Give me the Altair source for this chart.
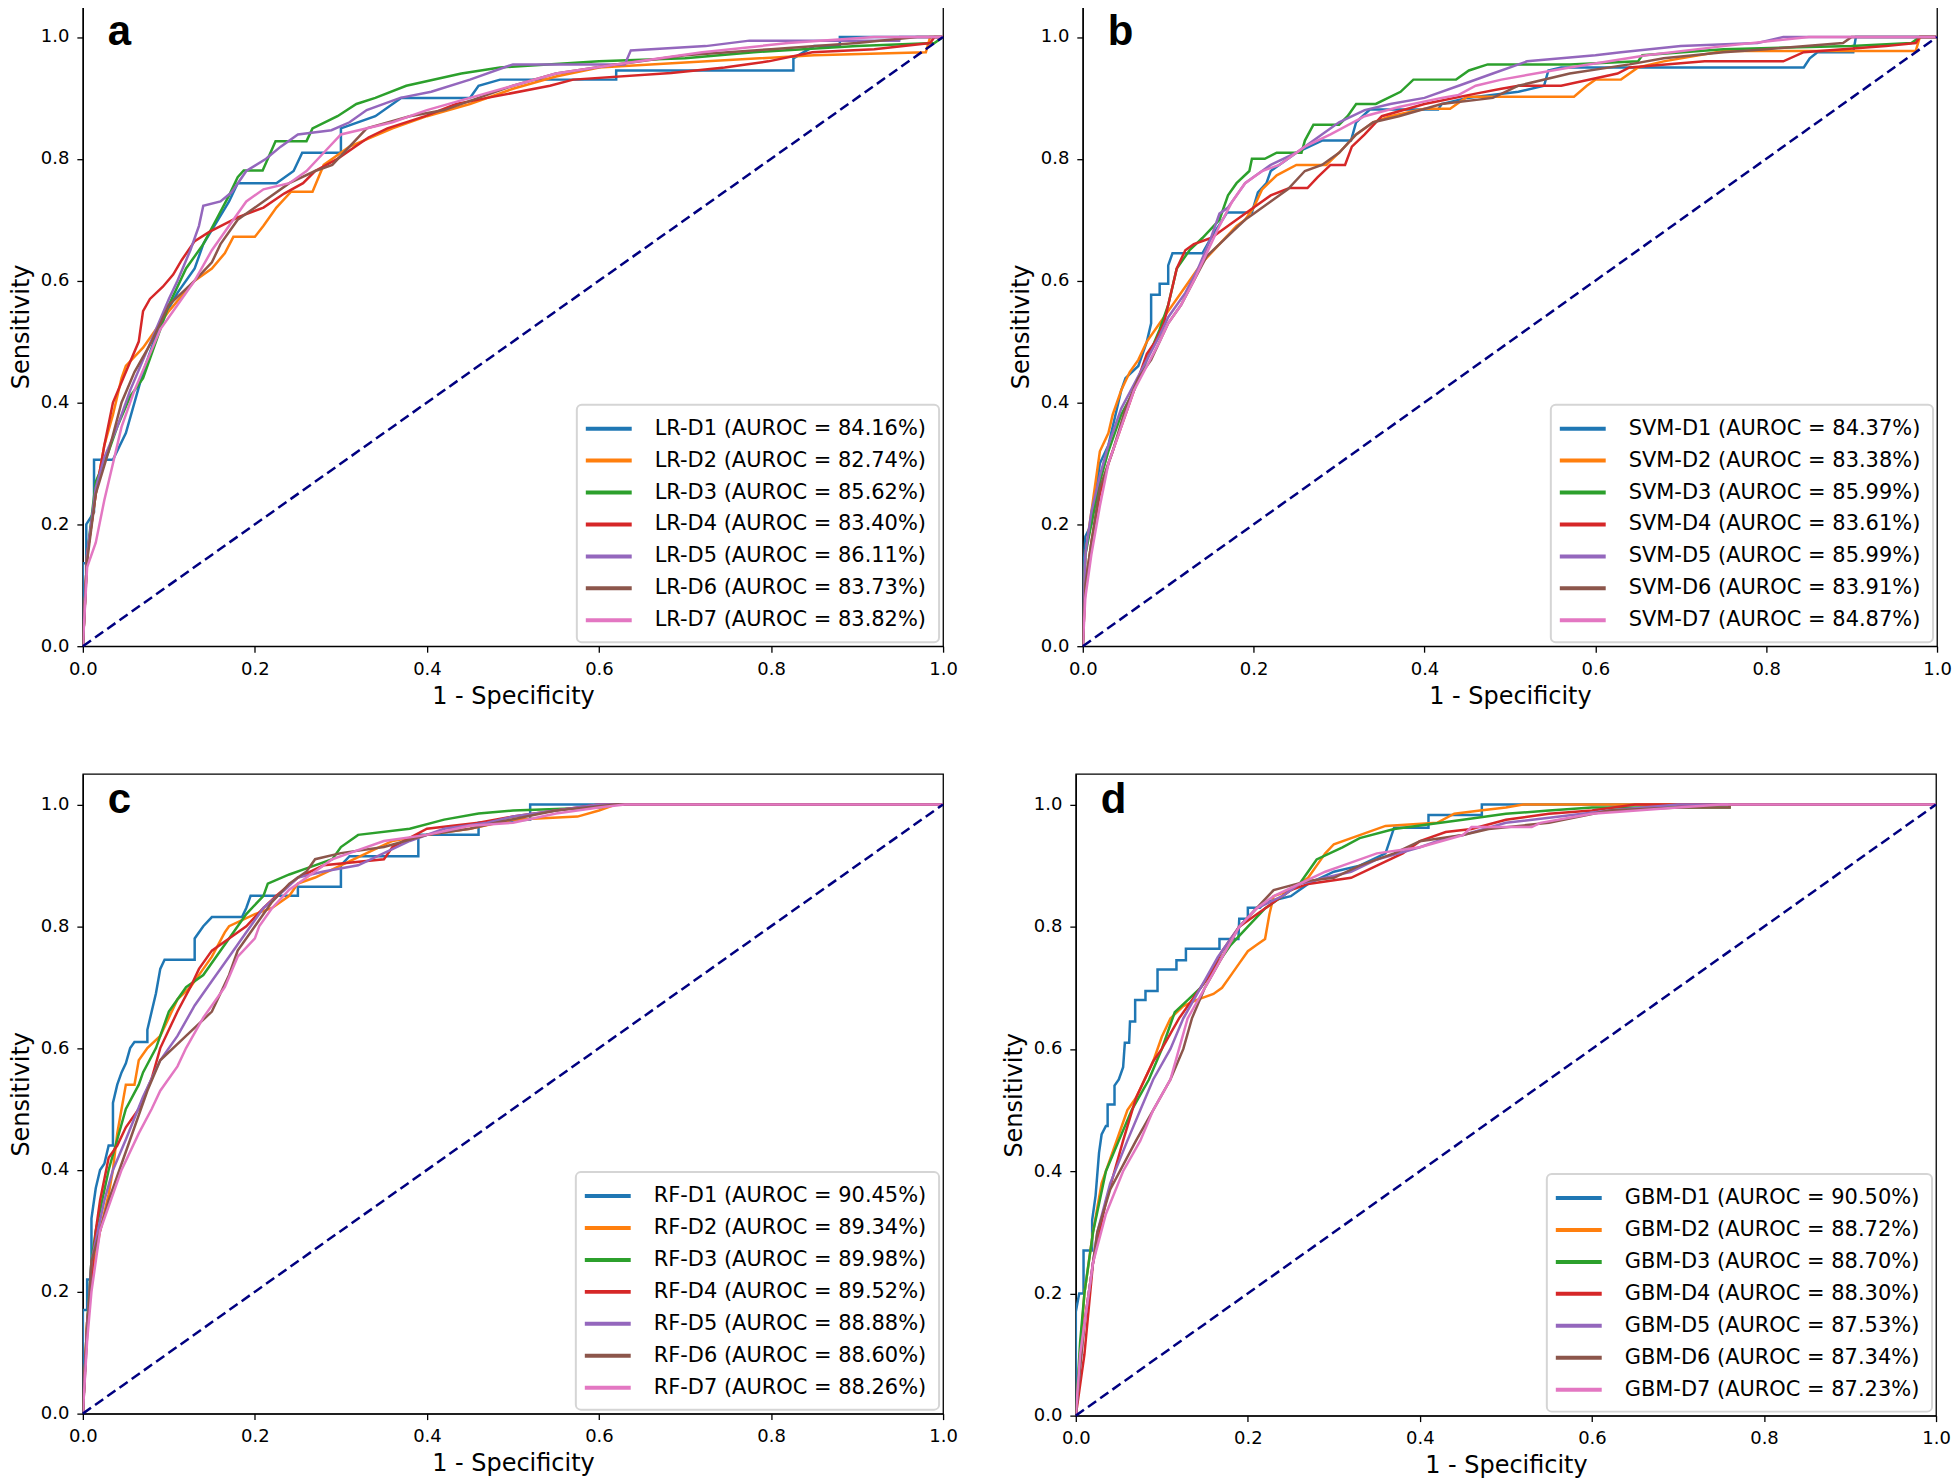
import altair as alt
import pandas as pd

# ---------------- data ----------------
TICKS = [0.0, 0.2, 0.4, 0.6, 0.8, 1.0]
COLORS = ["#1f77b4", "#ff7f0e", "#2ca02c", "#d62728", "#9467bd", "#8c564b", "#e377c2"]
DIAG_FPR = [0.0, 1.0]
DIAG_TPR = [0.0, 1.0]

LETTERS = ["a", "b", "c", "d"]
PREFIXES = ["LR", "SVM", "RF", "GBM"]
AUROC_A = ["84.16", "82.74", "85.62", "83.40", "86.11", "83.73", "83.82"]
AUROC_B = ["84.37", "83.38", "85.99", "83.61", "85.99", "83.91", "84.87"]
AUROC_C = ["90.45", "89.34", "89.98", "89.52", "88.88", "88.60", "88.26"]
AUROC_D = ["90.50", "88.72", "88.70", "88.30", "87.53", "87.34", "87.23"]

# ---- panel a: LR (fpr, tpr) ----
LR_D1 = [(0, 0), (0, 0.136), (0.004, 0.136), (0.004, 0.2), (0.013, 0.22), (0.013, 0.306), (0.035, 0.306),
         (0.05, 0.35), (0.07, 0.45), (0.09, 0.53), (0.11, 0.58), (0.13, 0.62), (0.14, 0.66), (0.155, 0.695),
         (0.17, 0.73), (0.18, 0.76), (0.225, 0.76), (0.245, 0.78), (0.255, 0.81), (0.30, 0.81), (0.30, 0.85),
         (0.34, 0.87), (0.37, 0.9), (0.45, 0.9), (0.46, 0.92), (0.485, 0.93), (0.62, 0.93), (0.62, 0.945),
         (0.826, 0.945), (0.826, 0.965), (0.85, 0.985), (0.88, 0.985), (0.88, 1.0), (1.0, 1.0)]
LR_D2 = [(0, 0), (0.005, 0.15), (0.015, 0.25), (0.025, 0.33), (0.035, 0.38), (0.045, 0.44), (0.05, 0.46),
         (0.07, 0.49), (0.1, 0.55), (0.13, 0.6), (0.15, 0.62), (0.165, 0.645), (0.175, 0.672), (0.2, 0.672),
         (0.21, 0.69), (0.225, 0.72), (0.242, 0.746), (0.267, 0.746), (0.28, 0.79), (0.29, 0.8), (0.31, 0.82),
         (0.36, 0.85), (0.4, 0.87), (0.45, 0.89), (0.5, 0.915), (0.55, 0.935), (0.6, 0.95), (0.7, 0.958),
         (0.85, 0.97), (0.98, 0.975), (0.985, 1.0), (1.0, 1.0)]
LR_D3 = [(0, 0), (0.005, 0.15), (0.015, 0.27), (0.03, 0.32), (0.04, 0.36), (0.055, 0.41), (0.07, 0.44),
         (0.08, 0.48), (0.1, 0.56), (0.12, 0.62), (0.14, 0.66), (0.155, 0.7), (0.17, 0.74), (0.18, 0.77),
         (0.187, 0.781), (0.209, 0.781), (0.224, 0.829), (0.26, 0.829), (0.267, 0.85), (0.296, 0.87),
         (0.318, 0.89), (0.34, 0.9), (0.376, 0.92), (0.44, 0.94), (0.485, 0.95), (0.6, 0.96), (0.7, 0.965),
         (0.78, 0.975), (0.9, 0.985), (0.99, 0.99), (1.0, 1.0)]
LR_D4 = [(0, 0), (0.005, 0.15), (0.015, 0.25), (0.025, 0.33), (0.035, 0.4), (0.05, 0.45), (0.065, 0.5),
         (0.07, 0.55), (0.078, 0.57), (0.093, 0.59), (0.105, 0.61), (0.115, 0.634), (0.13, 0.665),
         (0.147, 0.68), (0.18, 0.704), (0.21, 0.72), (0.234, 0.743), (0.256, 0.76), (0.27, 0.78),
         (0.296, 0.8), (0.332, 0.835), (0.354, 0.85), (0.398, 0.87), (0.434, 0.89), (0.47, 0.9),
         (0.543, 0.92), (0.57, 0.93), (0.684, 0.941), (0.746, 0.95), (0.797, 0.96), (0.848, 0.975),
         (0.92, 0.98), (0.985, 0.99), (0.99, 1.0), (1.0, 1.0)]
LR_D5 = [(0, 0), (0.005, 0.15), (0.015, 0.26), (0.025, 0.31), (0.04, 0.36), (0.055, 0.42), (0.07, 0.47),
         (0.085, 0.52), (0.1, 0.57), (0.11, 0.6), (0.125, 0.65), (0.135, 0.69), (0.14, 0.723), (0.16, 0.73),
         (0.173, 0.745), (0.19, 0.78), (0.213, 0.8), (0.23, 0.82), (0.25, 0.84), (0.289, 0.847), (0.31, 0.86),
         (0.33, 0.88), (0.369, 0.9), (0.405, 0.91), (0.45, 0.93), (0.5, 0.955), (0.63, 0.955), (0.637, 0.978),
         (0.724, 0.985), (0.775, 0.994), (0.949, 0.994), (0.95, 1.0), (1.0, 1.0)]
LR_D6 = [(0, 0), (0.005, 0.14), (0.015, 0.25), (0.03, 0.32), (0.045, 0.4), (0.06, 0.45), (0.08, 0.5),
         (0.1, 0.56), (0.115, 0.58), (0.13, 0.6), (0.15, 0.63), (0.16, 0.66), (0.18, 0.7), (0.21, 0.73),
         (0.24, 0.76), (0.27, 0.78), (0.29, 0.79), (0.31, 0.82), (0.33, 0.85), (0.38, 0.87), (0.42, 0.88),
         (0.46, 0.9), (0.5, 0.92), (0.55, 0.94), (0.62, 0.955), (0.7, 0.97), (0.8, 0.98), (0.9, 0.99),
         (0.97, 1.0), (1.0, 1.0)]
LR_D7 = [(0, 0), (0.005, 0.13), (0.015, 0.17), (0.025, 0.24), (0.035, 0.3), (0.045, 0.36), (0.06, 0.42),
         (0.075, 0.47), (0.09, 0.52), (0.11, 0.56), (0.13, 0.6), (0.15, 0.65), (0.17, 0.69), (0.19, 0.73),
         (0.21, 0.75), (0.24, 0.76), (0.26, 0.78), (0.28, 0.81), (0.3, 0.84), (0.36, 0.86), (0.4, 0.88),
         (0.45, 0.9), (0.5, 0.92), (0.55, 0.94), (0.62, 0.955), (0.72, 0.975), (0.82, 0.99), (0.92, 1.0),
         (1.0, 1.0)]

# ---- panel b: SVM ----
SVM_D1 = [(0, 0), (0, 0.1), (0.003, 0.18), (0.01, 0.2), (0.02, 0.3), (0.03, 0.33), (0.045, 0.42),
          (0.05, 0.44), (0.065, 0.46), (0.075, 0.5), (0.08, 0.53), (0.08, 0.577), (0.09, 0.577),
          (0.09, 0.595), (0.1, 0.595), (0.1, 0.625), (0.105, 0.645), (0.14, 0.645), (0.15, 0.67),
          (0.169, 0.712), (0.198, 0.712), (0.205, 0.745), (0.215, 0.76), (0.22, 0.78), (0.25, 0.81),
          (0.28, 0.83), (0.314, 0.83), (0.32, 0.86), (0.336, 0.881), (0.416, 0.881), (0.42, 0.89),
          (0.45, 0.9), (0.51, 0.91), (0.54, 0.92), (0.545, 0.945), (0.56, 0.95), (0.844, 0.95),
          (0.851, 0.965), (0.86, 0.975), (0.902, 0.975), (0.905, 1.0), (1.0, 1.0)]
SVM_D2 = [(0, 0), (0.003, 0.15), (0.01, 0.22), (0.015, 0.27), (0.02, 0.32), (0.03, 0.35), (0.035, 0.38),
          (0.045, 0.42), (0.055, 0.45), (0.065, 0.47), (0.075, 0.5), (0.09, 0.53), (0.1, 0.55), (0.12, 0.59),
          (0.14, 0.63), (0.16, 0.66), (0.18, 0.69), (0.19, 0.7), (0.2, 0.72), (0.21, 0.75), (0.227, 0.773),
          (0.25, 0.79), (0.285, 0.79), (0.3, 0.81), (0.32, 0.84), (0.34, 0.86), (0.36, 0.87), (0.4, 0.882),
          (0.43, 0.882), (0.45, 0.902), (0.575, 0.902), (0.59, 0.92), (0.6, 0.93), (0.63, 0.93), (0.65, 0.95),
          (0.68, 0.96), (0.75, 0.977), (0.975, 0.977), (0.98, 1.0), (1.0, 1.0)]
SVM_D3 = [(0, 0), (0.003, 0.15), (0.01, 0.2), (0.02, 0.27), (0.03, 0.32), (0.045, 0.38), (0.06, 0.42),
          (0.075, 0.47), (0.09, 0.52), (0.1, 0.56), (0.11, 0.62), (0.125, 0.65), (0.14, 0.67), (0.16, 0.7),
          (0.17, 0.74), (0.18, 0.76), (0.195, 0.78), (0.198, 0.8), (0.213, 0.8), (0.227, 0.81), (0.256, 0.81),
          (0.26, 0.83), (0.27, 0.856), (0.3, 0.856), (0.31, 0.87), (0.32, 0.89), (0.343, 0.89), (0.372, 0.91),
          (0.387, 0.93), (0.437, 0.93), (0.452, 0.945), (0.474, 0.955), (0.57, 0.955), (0.65, 0.96),
          (0.655, 0.97), (0.75, 0.98), (0.9, 0.985), (0.97, 0.99), (0.98, 1.0), (1.0, 1.0)]
SVM_D4 = [(0, 0), (0.003, 0.1), (0.01, 0.17), (0.02, 0.25), (0.03, 0.3), (0.045, 0.36), (0.055, 0.4),
          (0.065, 0.44), (0.075, 0.48), (0.085, 0.5), (0.095, 0.53), (0.1, 0.56), (0.11, 0.62), (0.12, 0.65),
          (0.13, 0.66), (0.15, 0.67), (0.16, 0.68), (0.18, 0.7), (0.2, 0.72), (0.22, 0.74), (0.242, 0.752),
          (0.263, 0.752), (0.275, 0.77), (0.29, 0.79), (0.307, 0.79), (0.315, 0.82), (0.33, 0.84),
          (0.35, 0.87), (0.4, 0.89), (0.46, 0.907), (0.49, 0.915), (0.51, 0.92), (0.56, 0.92), (0.626, 0.94),
          (0.64, 0.95), (0.728, 0.96), (0.82, 0.96), (0.844, 0.975), (0.94, 0.985), (0.975, 0.99),
          (0.98, 1.0), (1.0, 1.0)]
SVM_D5 = [(0, 0), (0.003, 0.15), (0.01, 0.22), (0.02, 0.28), (0.03, 0.33), (0.045, 0.39), (0.06, 0.43),
          (0.075, 0.47), (0.09, 0.51), (0.1, 0.54), (0.12, 0.58), (0.135, 0.62), (0.15, 0.67), (0.16, 0.71),
          (0.17, 0.72), (0.18, 0.74), (0.19, 0.76), (0.2, 0.77), (0.22, 0.79), (0.25, 0.81), (0.27, 0.83),
          (0.3, 0.86), (0.33, 0.88), (0.36, 0.89), (0.4, 0.9), (0.44, 0.92), (0.48, 0.94), (0.52, 0.96),
          (0.6, 0.97), (0.63, 0.975), (0.7, 0.985), (0.79, 0.99), (0.82, 1.0), (1.0, 1.0)]
SVM_D6 = [(0, 0), (0.003, 0.1), (0.01, 0.17), (0.02, 0.26), (0.035, 0.32), (0.05, 0.39), (0.065, 0.44),
          (0.08, 0.47), (0.09, 0.5), (0.1, 0.53), (0.115, 0.56), (0.13, 0.6), (0.145, 0.64), (0.16, 0.66),
          (0.175, 0.68), (0.19, 0.7), (0.2, 0.71), (0.22, 0.73), (0.24, 0.75), (0.26, 0.78), (0.28, 0.79),
          (0.3, 0.81), (0.32, 0.84), (0.34, 0.86), (0.37, 0.87), (0.42, 0.89), (0.48, 0.9), (0.51, 0.92),
          (0.57, 0.94), (0.64, 0.955), (0.68, 0.965), (0.75, 0.975), (0.8, 0.98), (0.89, 0.99), (0.9, 1.0),
          (1.0, 1.0)]
SVM_D7 = [(0, 0), (0.003, 0.08), (0.01, 0.15), (0.02, 0.23), (0.03, 0.3), (0.045, 0.36), (0.06, 0.42),
          (0.075, 0.46), (0.09, 0.5), (0.1, 0.53), (0.115, 0.56), (0.13, 0.6), (0.15, 0.66), (0.16, 0.69),
          (0.175, 0.73), (0.19, 0.76), (0.21, 0.78), (0.23, 0.79), (0.26, 0.82), (0.29, 0.84), (0.33, 0.87),
          (0.37, 0.885), (0.42, 0.9), (0.44, 0.905), (0.46, 0.92), (0.49, 0.93), (0.57, 0.95), (0.66, 0.97),
          (0.75, 0.985), (0.85, 1.0), (1.0, 1.0)]

# ---- panel c: RF ----
RF_D1 = [(0, 0), (0, 0.17), (0.005, 0.17), (0.005, 0.22), (0.01, 0.22), (0.01, 0.32), (0.015, 0.37),
         (0.02, 0.4), (0.025, 0.41), (0.03, 0.44), (0.035, 0.44), (0.035, 0.51), (0.04, 0.54), (0.045, 0.56),
         (0.05, 0.575), (0.055, 0.6), (0.06, 0.61), (0.075, 0.61), (0.075, 0.63), (0.08, 0.66), (0.085, 0.69),
         (0.09, 0.73), (0.095, 0.745), (0.13, 0.745), (0.13, 0.78), (0.14, 0.8), (0.15, 0.815), (0.185, 0.815),
         (0.19, 0.83), (0.195, 0.85), (0.25, 0.85), (0.25, 0.865), (0.3, 0.865), (0.3, 0.9), (0.31, 0.915),
         (0.39, 0.915), (0.39, 0.95), (0.46, 0.95), (0.46, 0.97), (0.52, 0.975), (0.52, 1.0), (1.0, 1.0)]
RF_D2 = [(0, 0), (0.005, 0.15), (0.01, 0.22), (0.02, 0.3), (0.03, 0.36), (0.035, 0.4), (0.04, 0.46),
         (0.045, 0.5), (0.05, 0.54), (0.06, 0.54), (0.065, 0.58), (0.075, 0.6), (0.09, 0.62), (0.1, 0.65),
         (0.11, 0.68), (0.125, 0.7), (0.14, 0.73), (0.15, 0.75), (0.165, 0.79), (0.17, 0.8), (0.2, 0.82),
         (0.22, 0.83), (0.24, 0.85), (0.25, 0.87), (0.27, 0.88), (0.3, 0.9), (0.33, 0.92), (0.36, 0.94),
         (0.4, 0.95), (0.45, 0.96), (0.5, 0.975), (0.575, 0.98), (0.6, 0.99), (0.62, 1.0), (1.0, 1.0)]
RF_D3 = [(0, 0), (0.005, 0.15), (0.01, 0.25), (0.015, 0.3), (0.03, 0.4), (0.04, 0.45), (0.05, 0.5),
         (0.065, 0.54), (0.07, 0.56), (0.085, 0.6), (0.1, 0.66), (0.12, 0.7), (0.14, 0.72), (0.155, 0.75),
         (0.17, 0.78), (0.18, 0.8), (0.19, 0.82), (0.21, 0.85), (0.215, 0.87), (0.24, 0.885), (0.26, 0.895),
         (0.29, 0.91), (0.3, 0.93), (0.32, 0.95), (0.38, 0.96), (0.42, 0.975), (0.46, 0.985), (0.5, 0.99),
         (0.6, 0.995), (0.62, 1.0), (1.0, 1.0)]
RF_D4 = [(0, 0), (0.005, 0.15), (0.01, 0.22), (0.015, 0.3), (0.02, 0.35), (0.03, 0.42), (0.04, 0.44),
         (0.05, 0.47), (0.065, 0.5), (0.08, 0.55), (0.09, 0.6), (0.1, 0.63), (0.11, 0.66), (0.125, 0.7),
         (0.135, 0.73), (0.15, 0.76), (0.17, 0.78), (0.19, 0.8), (0.21, 0.83), (0.225, 0.85), (0.25, 0.88),
         (0.28, 0.9), (0.35, 0.91), (0.36, 0.93), (0.4, 0.96), (0.46, 0.97), (0.5, 0.98), (0.55, 0.99),
         (0.6, 1.0), (1.0, 1.0)]
RF_D5 = [(0, 0), (0.005, 0.14), (0.01, 0.25), (0.025, 0.35), (0.035, 0.4), (0.05, 0.45), (0.07, 0.52),
         (0.09, 0.58), (0.11, 0.62), (0.13, 0.67), (0.15, 0.71), (0.17, 0.75), (0.19, 0.79), (0.21, 0.83),
         (0.235, 0.86), (0.25, 0.88), (0.28, 0.89), (0.32, 0.9), (0.35, 0.92), (0.38, 0.94), (0.42, 0.96),
         (0.47, 0.97), (0.5, 0.98), (0.55, 0.99), (0.6, 1.0), (1.0, 1.0)]
RF_D6 = [(0, 0), (0.005, 0.13), (0.01, 0.25), (0.03, 0.35), (0.055, 0.45), (0.075, 0.53), (0.09, 0.58),
         (0.12, 0.62), (0.15, 0.66), (0.17, 0.72), (0.18, 0.76), (0.2, 0.8), (0.22, 0.84), (0.24, 0.87),
         (0.26, 0.89), (0.27, 0.91), (0.3, 0.92), (0.35, 0.93), (0.4, 0.95), (0.45, 0.96), (0.48, 0.97),
         (0.55, 0.99), (0.62, 1.0), (1.0, 1.0)]
RF_D7 = [(0, 0), (0.005, 0.12), (0.01, 0.2), (0.02, 0.3), (0.045, 0.4), (0.065, 0.46), (0.08, 0.5),
         (0.09, 0.53), (0.11, 0.57), (0.12, 0.6), (0.14, 0.65), (0.165, 0.7), (0.18, 0.75), (0.2, 0.78),
         (0.205, 0.8), (0.22, 0.83), (0.24, 0.86), (0.27, 0.89), (0.29, 0.91), (0.31, 0.92), (0.35, 0.94),
         (0.4, 0.95), (0.45, 0.965), (0.5, 0.97), (0.55, 0.985), (0.6, 0.995), (0.63, 1.0), (1.0, 1.0)]

# ---- panel d: GBM ----
GBM_D1 = [(0, 0), (0, 0.17), (0.004, 0.2), (0.009, 0.2), (0.009, 0.27), (0.019, 0.27), (0.019, 0.32),
          (0.023, 0.36), (0.027, 0.43), (0.03, 0.46), (0.035, 0.474), (0.037, 0.474), (0.037, 0.509),
          (0.045, 0.509), (0.045, 0.54), (0.05, 0.55), (0.055, 0.57), (0.057, 0.61), (0.062, 0.61),
          (0.063, 0.645), (0.069, 0.645), (0.069, 0.68), (0.081, 0.68), (0.081, 0.695), (0.095, 0.695),
          (0.095, 0.73), (0.117, 0.73), (0.117, 0.745), (0.128, 0.745), (0.128, 0.764), (0.167, 0.764),
          (0.167, 0.78), (0.189, 0.78), (0.19, 0.813), (0.2, 0.813), (0.2, 0.831), (0.214, 0.831),
          (0.22, 0.84), (0.25, 0.85), (0.27, 0.87), (0.3, 0.89), (0.33, 0.9), (0.36, 0.92), (0.37, 0.962),
          (0.41, 0.962), (0.41, 0.983), (0.472, 0.983), (0.472, 1.0), (1.0, 1.0)]
GBM_D2 = [(0, 0), (0.005, 0.1), (0.01, 0.2), (0.02, 0.3), (0.03, 0.38), (0.04, 0.42), (0.05, 0.46),
          (0.06, 0.5), (0.07, 0.52), (0.08, 0.55), (0.09, 0.58), (0.1, 0.62), (0.11, 0.65), (0.125, 0.67),
          (0.14, 0.68), (0.16, 0.69), (0.17, 0.7), (0.18, 0.72), (0.19, 0.74), (0.2, 0.76), (0.21, 0.77),
          (0.22, 0.78), (0.225, 0.82), (0.23, 0.85), (0.25, 0.86), (0.27, 0.88), (0.28, 0.9), (0.29, 0.92),
          (0.3, 0.935), (0.33, 0.95), (0.36, 0.965), (0.42, 0.97), (0.44, 0.985), (0.47, 0.99), (0.5, 0.995),
          (0.52, 1.0), (1.0, 1.0)]
GBM_D3 = [(0, 0), (0.005, 0.12), (0.01, 0.2), (0.02, 0.3), (0.035, 0.4), (0.05, 0.45), (0.065, 0.5),
          (0.085, 0.55), (0.1, 0.6), (0.115, 0.66), (0.13, 0.68), (0.145, 0.7), (0.16, 0.73), (0.18, 0.77),
          (0.2, 0.8), (0.22, 0.83), (0.24, 0.85), (0.26, 0.87), (0.27, 0.89), (0.28, 0.91), (0.31, 0.93),
          (0.33, 0.945), (0.37, 0.96), (0.45, 0.975), (0.5, 0.985), (0.55, 0.99), (0.6, 0.995), (0.76, 0.995),
          (0.76, 1.0), (1.0, 1.0)]
GBM_D4 = [(0, 0), (0.005, 0.05), (0.01, 0.1), (0.02, 0.25), (0.035, 0.35), (0.055, 0.45), (0.07, 0.52),
          (0.09, 0.58), (0.1, 0.6), (0.12, 0.65), (0.14, 0.69), (0.155, 0.72), (0.17, 0.76), (0.19, 0.8),
          (0.21, 0.82), (0.23, 0.84), (0.25, 0.86), (0.27, 0.87), (0.32, 0.88), (0.35, 0.9), (0.38, 0.92),
          (0.4, 0.94), (0.43, 0.955), (0.46, 0.96), (0.5, 0.975), (0.55, 0.985), (0.6, 0.99), (0.65, 1.0),
          (1.0, 1.0)]
GBM_D5 = [(0, 0), (0.005, 0.08), (0.01, 0.15), (0.025, 0.3), (0.04, 0.38), (0.06, 0.45), (0.075, 0.5),
          (0.09, 0.55), (0.11, 0.6), (0.125, 0.65), (0.145, 0.7), (0.165, 0.75), (0.19, 0.8), (0.21, 0.83),
          (0.24, 0.85), (0.26, 0.87), (0.29, 0.88), (0.32, 0.89), (0.35, 0.91), (0.4, 0.93), (0.43, 0.945),
          (0.45, 0.95), (0.5, 0.97), (0.56, 0.98), (0.62, 0.99), (0.7, 1.0), (1.0, 1.0)]
GBM_D6 = [(0, 0), (0.005, 0.08), (0.01, 0.15), (0.025, 0.3), (0.04, 0.37), (0.07, 0.45), (0.09, 0.5),
          (0.11, 0.55), (0.125, 0.6), (0.135, 0.65), (0.15, 0.7), (0.17, 0.75), (0.19, 0.8), (0.21, 0.83),
          (0.23, 0.86), (0.27, 0.875), (0.3, 0.88), (0.33, 0.9), (0.37, 0.92), (0.4, 0.94), (0.45, 0.95),
          (0.48, 0.96), (0.55, 0.97), (0.62, 0.99), (0.7, 0.995), (0.76, 0.995), (0.76, 1.0), (1.0, 1.0)]
GBM_D7 = [(0, 0), (0.005, 0.1), (0.02, 0.25), (0.035, 0.33), (0.055, 0.4), (0.075, 0.45), (0.09, 0.5),
          (0.11, 0.55), (0.12, 0.6), (0.13, 0.65), (0.15, 0.7), (0.17, 0.75), (0.19, 0.8), (0.21, 0.83),
          (0.23, 0.85), (0.26, 0.87), (0.29, 0.89), (0.31, 0.9), (0.35, 0.92), (0.4, 0.93), (0.45, 0.95),
          (0.46, 0.963), (0.53, 0.963), (0.54, 0.97), (0.6, 0.985), (0.7, 0.995), (0.75, 1.0), (1.0, 1.0)]

PANEL_SERIES = [
    [LR_D1, LR_D2, LR_D3, LR_D4, LR_D5, LR_D6, LR_D7],
    [SVM_D1, SVM_D2, SVM_D3, SVM_D4, SVM_D5, SVM_D6, SVM_D7],
    [RF_D1, RF_D2, RF_D3, RF_D4, RF_D5, RF_D6, RF_D7],
    [GBM_D1, GBM_D2, GBM_D3, GBM_D4, GBM_D5, GBM_D6, GBM_D7],
]
PANEL_AUROC = [AUROC_A, AUROC_B, AUROC_C, AUROC_D]

# ---------------- chart ----------------
diag_df = pd.DataFrame({"fpr": DIAG_FPR, "tpr": DIAG_TPR})


def make_panel(k, width, height):
    prefix = PREFIXES[k]
    names = [f"{prefix}-D{i + 1} (AUROC = {PANEL_AUROC[k][i]}%)" for i in range(7)]
    rows = []
    for i, pts in enumerate(PANEL_SERIES[k]):
        for j, (x, y) in enumerate(pts):
            rows.append({"series": names[i], "fpr": x, "tpr": y, "idx": j})
    df = pd.DataFrame(rows)

    xenc = alt.X("fpr:Q", scale=alt.Scale(domain=[0, 1], nice=False, zero=False),
                 axis=alt.Axis(title="1 - Specificity", values=TICKS, format=".1f"))
    yenc = alt.Y("tpr:Q", scale=alt.Scale(domain=[0, 1.05], nice=False, zero=False),
                 axis=alt.Axis(title="Sensitivity", values=TICKS, format=".1f"))

    curves = alt.Chart(df).mark_line(strokeWidth=2.5, clip=True).encode(
        x=xenc,
        y=yenc,
        color=alt.Color("series:N", sort=names,
                        scale=alt.Scale(domain=names, range=COLORS),
                        legend=alt.Legend(title=None, orient="bottom-right", offset=4)),
        order=alt.Order("idx:Q"),
    )
    diag = alt.Chart(diag_df).mark_line(color="navy", strokeDash=[10, 5], strokeWidth=2.5).encode(
        x=xenc, y=yenc
    )
    letter = alt.Chart(pd.DataFrame({"letter": [LETTERS[k]]})).mark_text(
        font="Liberation Sans", fontSize=42, fontWeight="bold", color="black",
        align="left", baseline="alphabetic"
    ).encode(text="letter:N", x=alt.value(25), y=alt.value(39))
    return alt.layer(curves, diag, letter).properties(width=width, height=height)


pa = make_panel(0, 862, 641)
pb = make_panel(1, 856, 641)
pc = make_panel(2, 862, 641)
pd_ = make_panel(3, 862, 643)

row1 = alt.hconcat(pa, pb, spacing=50).resolve_scale(color="independent")
row2 = alt.hconcat(pc, pd_, spacing=43).resolve_scale(color="independent")

chart = alt.vconcat(row1, row2, spacing=64).resolve_scale(color="independent").properties(
    padding={"left": 0, "top": -4, "right": 0, "bottom": 0}
).configure_view(
    stroke="black", strokeWidth=1.3
).configure_axis(
    grid=False, domainColor="black", domainWidth=1.3, tickColor="black", tickWidth=1.3, tickSize=6,
    labelFont="DejaVu Sans", labelFontSize=18, labelColor="black", labelPadding=8, labelFlush=False,
    titleFont="DejaVu Sans", titleFontSize=24, titleFontWeight="normal", titleColor="black",
).configure_axisX(
    titlePadding=6
).configure_axisY(
    titlePadding=7
).configure_legend(
    labelFont="DejaVu Sans", labelFontSize=21, labelColor="black", labelLimit=600,
    symbolType="M-1.5,0L3.1,0", symbolSize=400, symbolStrokeWidth=4, labelOffset=42,
    padding=12, rowPadding=10, strokeColor="#d5d5d5", strokeWidth=2, cornerRadius=5,
    fillColor="white"
)

chart.save("out.html", embed_options={"renderer": "svg", "actions": False})
